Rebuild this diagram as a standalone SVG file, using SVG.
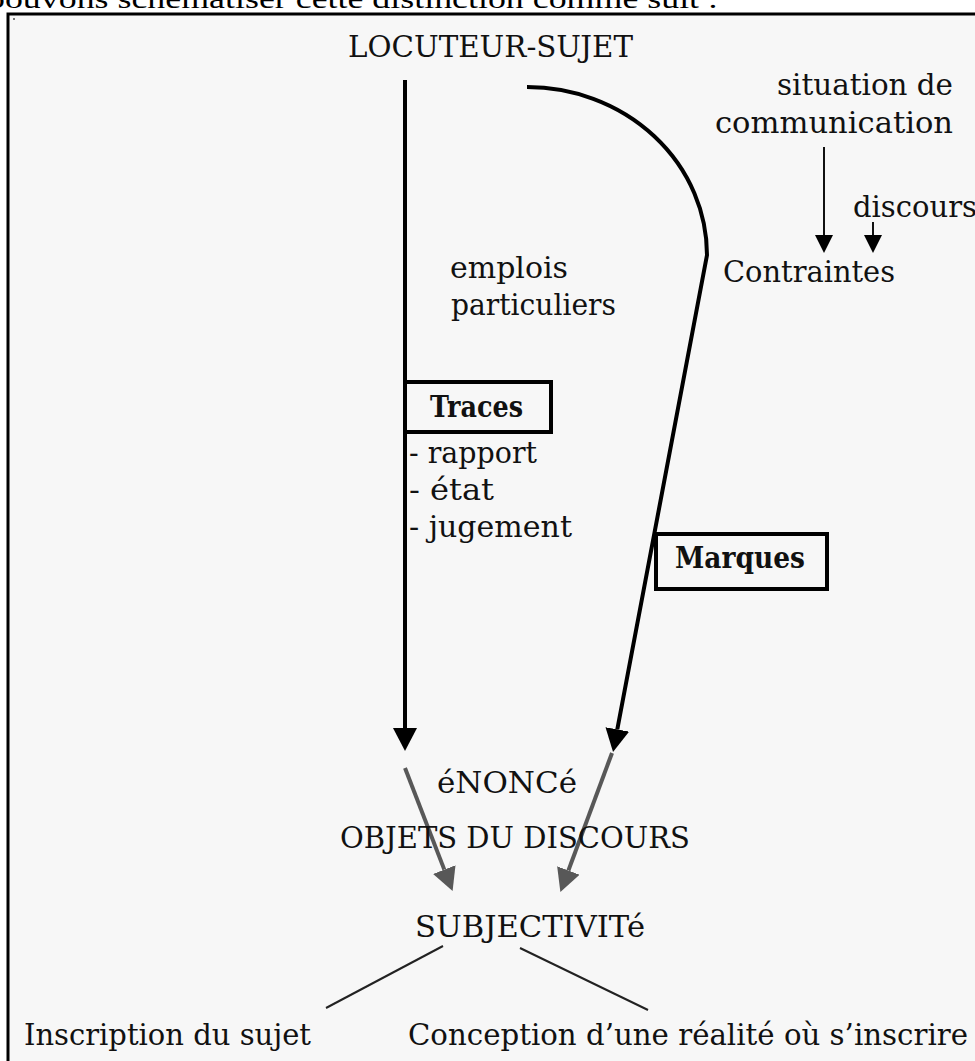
<svg xmlns="http://www.w3.org/2000/svg" width="975" height="1061" viewBox="0 0 975 1061">
<style>
.t{font-family:"DejaVu Serif","Liberation Serif",serif;font-size:29px;fill:#111}
.b{font-weight:bold}
.top{font-family:"Liberation Serif",serif;font-size:27px;fill:#000}
.box{fill:none;stroke:#000;stroke-width:4}
.k{fill:none;stroke:#000;stroke-width:4}
.g{fill:none;stroke:#585858;stroke-width:4}
.thin{fill:none;stroke:#111;stroke-width:2}
.thin2{fill:none;stroke:#222;stroke-width:2}
</style>
<defs>
<marker id="ak" viewBox="0 0 24 24" refX="0" refY="12" markerWidth="24" markerHeight="24" markerUnits="userSpaceOnUse" orient="auto"><path d="M0,0 L23,12 L0,24 z" fill="#000"/></marker>
<marker id="ag" viewBox="0 0 24 24" refX="0" refY="12" markerWidth="24" markerHeight="24" markerUnits="userSpaceOnUse" orient="auto"><path d="M0,0 L23,12 L0,24 z" fill="#585858"/></marker>
<marker id="as" viewBox="0 0 18 18" refX="0" refY="9" markerWidth="18" markerHeight="18" markerUnits="userSpaceOnUse" orient="auto"><path d="M0,0 L18,9 L0,18 z" fill="#000"/></marker>
</defs>
<rect x="0" y="0" width="975" height="1061" fill="#fff"/>
<text class="top" x="-13" y="8" textLength="731" lengthAdjust="spacingAndGlyphs">pouvons schématiser cette distinction comme suit :</text>
<rect x="8" y="14" width="1000" height="1100" fill="#f7f7f7" stroke="#000" stroke-width="3"/>
<rect x="13" y="18" width="2" height="2" fill="#777"/>
<g id="connectors">
<line class="k" x1="405" y1="80" x2="405" y2="728" marker-end="url(#ak)"/>
<path class="k" d="M527,87 A180,168 0 0 1 707,255 L617.3,729.4" marker-end="url(#ak)"/>
<line class="g" x1="405" y1="768" x2="444.3" y2="869.6" marker-end="url(#ag)"/>
<line class="g" x1="612" y1="753" x2="568.4" y2="870.5" marker-end="url(#ag)"/>
<line class="thin" x1="824" y1="147" x2="824" y2="235" marker-end="url(#as)"/>
<line class="thin" x1="873" y1="222" x2="873" y2="235" marker-end="url(#as)"/>
<line class="thin2" x1="443" y1="946" x2="326" y2="1008"/>
<line class="thin2" x1="520" y1="948" x2="648" y2="1010"/>
</g>
<g id="locuteur"><text class="t" x="348" y="57" textLength="285" lengthAdjust="spacingAndGlyphs">LOCUTEUR-SUJET</text></g>
<g id="situation">
<text class="t" x="777" y="95" textLength="176" lengthAdjust="spacingAndGlyphs">situation de</text>
<text class="t" x="715" y="133" textLength="238" lengthAdjust="spacingAndGlyphs">communication</text>
</g>
<g id="discours"><text class="t" x="853" y="217" textLength="124" lengthAdjust="spacingAndGlyphs">discours</text></g>
<g id="contraintes"><text class="t" x="723" y="282" textLength="172" lengthAdjust="spacingAndGlyphs">Contraintes</text></g>
<g id="emplois">
<text class="t" x="450" y="278" textLength="118" lengthAdjust="spacingAndGlyphs">emplois</text>
<text class="t" x="451" y="315" textLength="165" lengthAdjust="spacingAndGlyphs">particuliers</text>
</g>
<g id="traces">
<rect class="box" x="405" y="382" width="146" height="50"/>
<text class="t b" x="430" y="417" textLength="93" lengthAdjust="spacingAndGlyphs">Traces</text>
<text class="t" x="409" y="463" textLength="128" lengthAdjust="spacingAndGlyphs">- rapport</text>
<text class="t" x="409" y="500" textLength="85" lengthAdjust="spacingAndGlyphs">- état</text>
<text class="t" x="409" y="537" textLength="163" lengthAdjust="spacingAndGlyphs">- jugement</text>
</g>
<g id="marques">
<rect class="box" x="656" y="534" width="171" height="55"/>
<text class="t b" x="675" y="568" textLength="130" lengthAdjust="spacingAndGlyphs">Marques</text>
</g>
<g id="enonce"><text class="t" x="437" y="793" textLength="140" lengthAdjust="spacingAndGlyphs">éNONCé</text></g>
<g id="objets"><text class="t" x="340" y="848" textLength="350" lengthAdjust="spacingAndGlyphs">OBJETS DU DISCOURS</text></g>
<g id="subjectivite"><text class="t" x="415" y="937" textLength="230" lengthAdjust="spacingAndGlyphs">SUBJECTIVITé</text></g>
<g id="inscription"><text class="t" x="24" y="1045" textLength="287" lengthAdjust="spacingAndGlyphs">Inscription du sujet</text></g>
<g id="conception"><text class="t" x="408" y="1045" textLength="560" lengthAdjust="spacingAndGlyphs">Conception d’une réalité où s’inscrire</text></g>
</svg>
